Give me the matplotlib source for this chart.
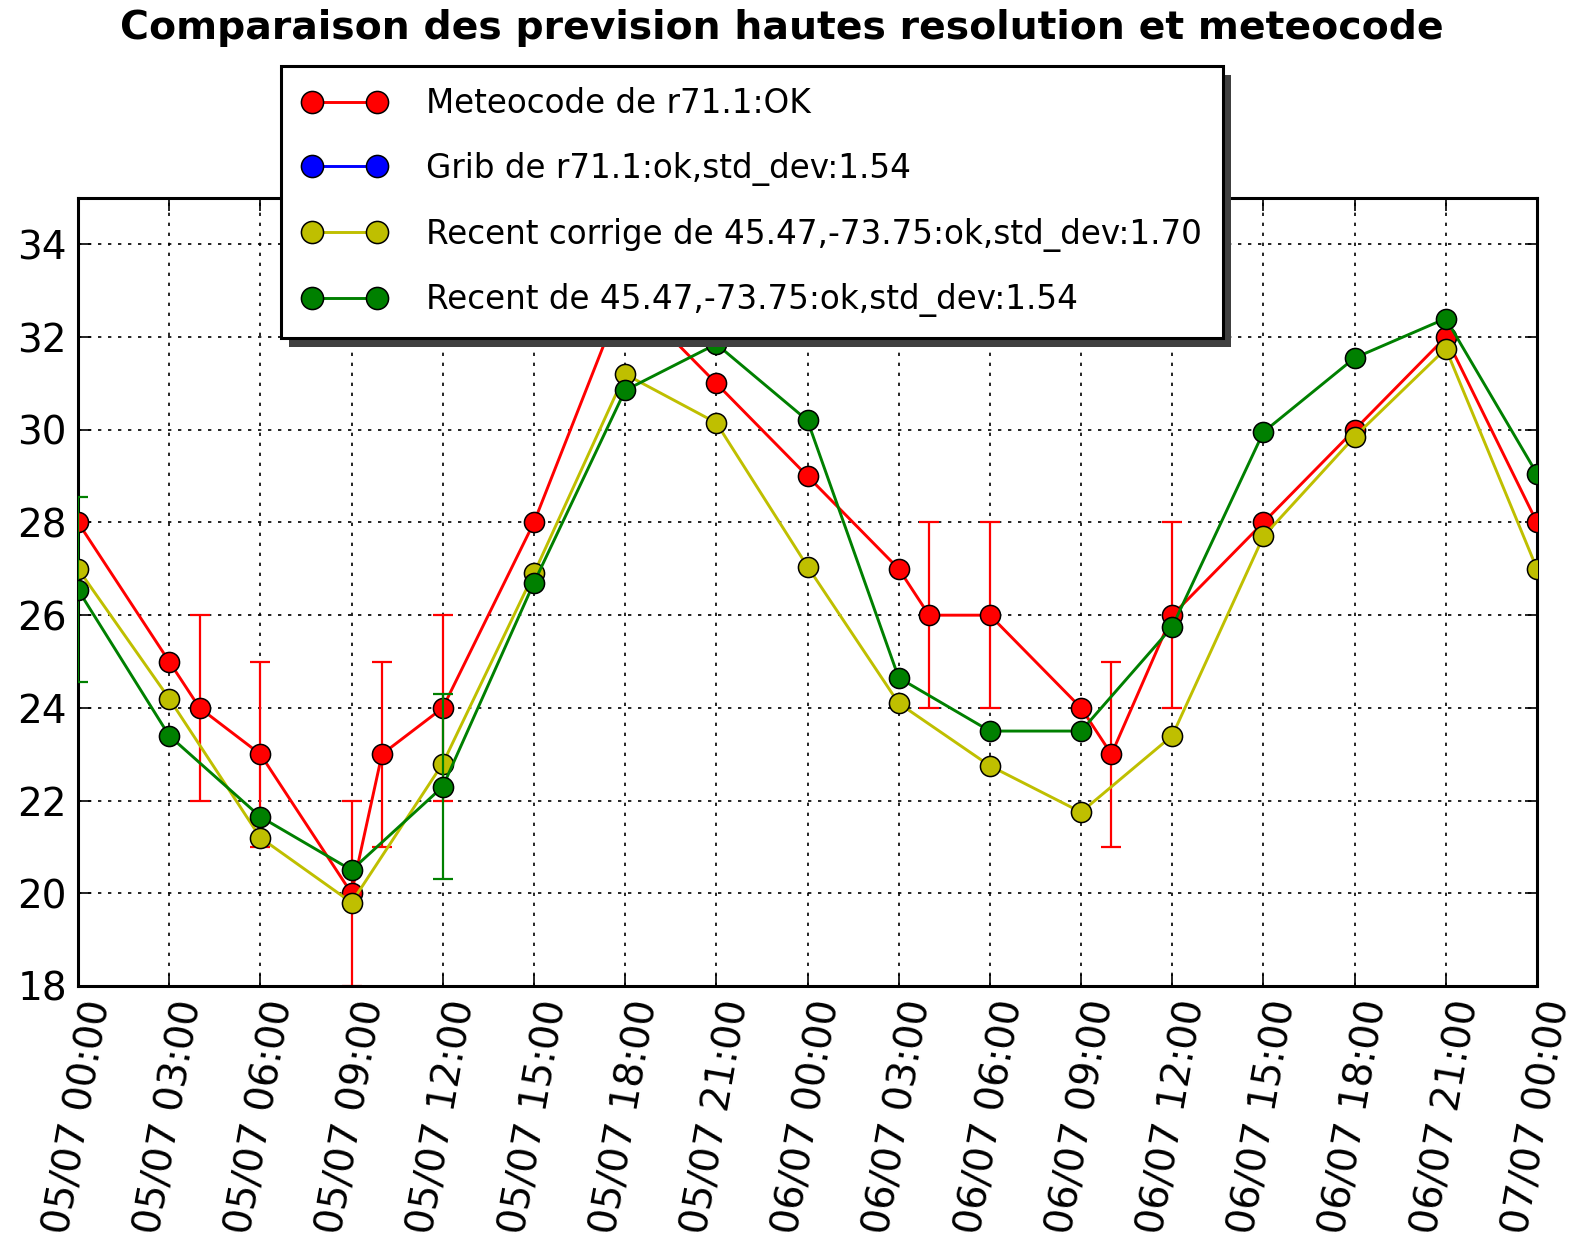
import matplotlib
matplotlib.use("Agg")
import matplotlib.pyplot as plt
import matplotlib.dates as mdates
from matplotlib.patches import Rectangle
import numpy as np

# hours after 05/07 00:00
start = np.datetime64("2013-07-05T00:00")

red_hours = [0, 3, 4, 6, 9, 10, 12, 15, 18, 21, 24, 27, 28, 30, 33, 34, 36, 39, 42, 45, 48]
red_vals = [28, 25, 24, 23, 20, 23, 24, 28, 33, 31, 29, 27, 26, 26, 24, 23, 26, 28, 30, 32, 28]
red_err_hours = [4, 6, 9, 10, 12, 28, 30, 34, 36]
red_err_vals = [24, 23, 20, 23, 24, 26, 26, 23, 26]
red_err = 2

blue_hours = []
blue_vals = []

model_hours = [0, 3, 6, 9, 12, 15, 18, 21, 24, 27, 30, 33, 36, 39, 42, 45, 48]
yellow_vals = [27.0, 24.2, 21.2, 19.8, 22.8, 26.9, 31.2, 30.15, 27.05, 24.1, 22.75,
               21.75, 23.4, 27.7, 29.85, 31.75, 27.0]
green_vals = [26.55, 23.4, 21.65, 20.5, 22.3, 26.7, 30.85, 31.85, 30.2, 24.65, 23.5,
              23.5, 25.75, 29.95, 31.55, 32.4, 29.05]
green_err_hours = [0, 12]
green_err_vals = [26.55, 22.3]
green_err = 2

labels = [
    "Meteocode de r71.1:OK",
    "Grib de r71.1:ok,std_dev:1.54",
    "Recent corrige de 45.47,-73.75:ok,std_dev:1.70",
    "Recent de 45.47,-73.75:ok,std_dev:1.54",
]


def to_dates(hours):
    return [(start + np.timedelta64(h, "h")).astype("datetime64[m]").astype(object) for h in hours]


fig = plt.figure(figsize=(15.75, 12.44), dpi=100)
ax = fig.add_axes([78 / 1575, 1 - 986 / 1244, (1537 - 78) / 1575, (986 - 198) / 1244])

mk = dict(marker="o", markersize=14.5, markeredgecolor="k", markeredgewidth=1.1, linewidth=2.1)
ax.errorbar(to_dates(red_err_hours), red_err_vals, yerr=red_err, fmt="none",
            ecolor="r", elinewidth=1.6, capsize=7, capthick=1.6, zorder=2)
ax.plot(to_dates(red_hours), red_vals, color="r", label=labels[0], zorder=3, **mk)
ax.plot(to_dates(blue_hours), blue_vals, color="b", label=labels[1], zorder=3, **mk)
ax.plot(to_dates(model_hours), yellow_vals, color=(0.75, 0.75, 0), label=labels[2], zorder=3, **mk)
ax.errorbar(to_dates(green_err_hours), green_err_vals, yerr=green_err, fmt="none",
            ecolor=(0, 0.5, 0), elinewidth=1.6, capsize=7, capthick=1.6, zorder=3)
ax.plot(to_dates(model_hours), green_vals, color=(0, 0.5, 0), label=labels[3], zorder=3, **mk)

ax.set_xlim(to_dates([0])[0], to_dates([48])[0])
ax.set_ylim(18, 35)
ax.set_yticks(np.arange(18, 35, 2))
ax.xaxis.set_major_locator(mdates.HourLocator(byhour=range(0, 24, 3)))
ax.xaxis.set_major_formatter(mdates.DateFormatter("%d/%m %H:%M"))
plt.setp(ax.get_xticklabels(), rotation=80, ha="center")
ax.tick_params(direction="in", length=9, width=1.2, top=True, right=True,
               labelsize=28, pad=8)
ax.grid(True, color="k", linestyle=(0, (2, 4)), linewidth=1.2)
for s in ax.spines.values():
    s.set_linewidth(2.2)

fig.suptitle("Comparaison des prevision hautes resolution et meteocode",
             fontsize=28.4, fontweight="bold", x=0.4965, y=0.993, va="top")

leg = fig.legend(loc="upper left", bbox_to_anchor=(281 / 1575, 1 - 66 / 1244),
                 borderaxespad=0, numpoints=2, fontsize=23.5, handlelength=2.6,
                 handletextpad=1.2, labelspacing=0.97, borderpad=0.65, fancybox=False,
                 framealpha=1, edgecolor="k", markerscale=1.1)
leg.get_frame().set_linewidth(2.2)
leg.set_zorder(10)

# hard shadow behind the legend box
fig.canvas.draw()
bb = leg.get_window_extent().transformed(fig.transFigure.inverted())
fig.patches.append(Rectangle((bb.x0 + 8 / 1575, bb.y0 - 9 / 1244), bb.width, bb.height,
                             transform=fig.transFigure, facecolor="0.25",
                             edgecolor="none", zorder=9))

fig.savefig("out.png", dpi=100)
